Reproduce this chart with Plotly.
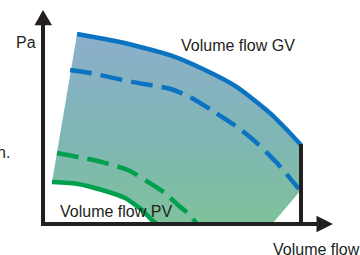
import plotly.graph_objects as go

# Schematic fan curves (flow in % of GV max flow, pressure in % of GV shut-off pressure)
gv_flow = [13.2, 29.8, 49.2, 62.0, 75.2, 88.0, 94.6, 100.0]
gv_pa = [100.0, 95.8, 88.9, 81.6, 72.1, 58.4, 49.5, 41.6]

gv_dash_flow = [10.5, 18.2, 34.9, 49.2, 57.0, 65.9, 75.2, 82.9, 90.7, 99.2]
gv_dash_pa = [81.1, 79.5, 74.7, 71.2, 66.8, 59.4, 51.1, 42.6, 32.1, 18.4]

pv_dash_flow = [5.4, 13.6, 22.9, 32.9, 40.7, 47.3, 52.3, 57.0, 59.6]
pv_dash_pa = [37.4, 35.3, 32.6, 28.4, 22.1, 16.3, 10.0, 4.7, 0.0]

pv_flow = [3.5, 13.6, 22.9, 31.8, 38.4, 42.2, 44.2]
pv_pa = [22.1, 21.1, 17.9, 13.7, 7.4, 2.1, 0.0]

# corner of the operating range at max flow
limit_flow = [100.0, 88.8]
limit_pa = [17.9, 0.0]

labels = ["Volume flow GV", "Volume flow PV", "Pa", "Volume flow", "n."]

BLUE = "#0b73c1"
GREEN = "#00a04f"
BLACK = "#231f20"
FONT = "Liberation Sans, Arial, sans-serif"

x_max = 112.4
y_max = 112.6

fig = go.Figure()

# shaded operating range
fx = gv_flow + limit_flow + pv_flow[::-1] + [gv_flow[0]]
fy = gv_pa + limit_pa + pv_pa[::-1] + [gv_pa[0]]
fig.add_trace(go.Scatter(
    x=fx, y=fy, mode="lines", fill="toself", line=dict(width=0),
    fillgradient=dict(type="vertical", start=0, stop=100,
                      colorscale=[[0, "#7ec29b"], [0.45, "#7fb6b4"], [1, "#8cafcc"]]),
    hoverinfo="skip"))

sp = dict(shape="spline", smoothing=0.6)
fig.add_trace(go.Scatter(x=gv_flow, y=gv_pa, mode="lines",
                         line=dict(color=BLUE, width=4.5, **sp), hoverinfo="skip"))
fig.add_trace(go.Scatter(x=gv_dash_flow, y=gv_dash_pa, mode="lines",
                         line=dict(color=BLUE, width=4.5, dash="22px,9px", **sp), hoverinfo="skip"))
fig.add_trace(go.Scatter(x=pv_dash_flow, y=pv_dash_pa, mode="lines",
                         line=dict(color=GREEN, width=4.5, dash="22px,9px", **sp), hoverinfo="skip"))
fig.add_trace(go.Scatter(x=pv_flow, y=pv_pa, mode="lines",
                         line=dict(color=GREEN, width=4.5, **sp), hoverinfo="skip"))

# axes and max-flow limit line
fig.add_trace(go.Scatter(x=[0, 0, x_max - 5], y=[y_max - 5, 0, 0], mode="lines",
                         line=dict(color=BLACK, width=4), hoverinfo="skip"))
fig.add_trace(go.Scatter(x=[gv_flow[-1], gv_flow[-1]], y=[gv_pa[-1] + 0.5, 0], mode="lines",
                         line=dict(color=BLACK, width=4), hoverinfo="skip"))

shapes = [
    dict(type="path", xref="x", yref="y",
         path=f"M -3.3 {y_max-8} L 3.5 {y_max-8} L 0 {y_max} Z",
         fillcolor=BLACK, line=dict(width=0)),
    dict(type="path", xref="x", yref="y",
         path=f"M {x_max-6.4} 4.3 L {x_max-6.4} -4.3 L {x_max} 0 Z",
         fillcolor=BLACK, line=dict(width=0)),
]

tf = dict(family=FONT, size=16, color=BLACK)
annotations = [
    dict(x=53.1, y=93.7, text=labels[0], xanchor="left", yanchor="middle"),
    dict(x=6.2, y=6.8, text=labels[1], xanchor="left", yanchor="middle"),
    dict(x=-6.6, y=95.3, text=labels[2], xanchor="center", yanchor="middle"),
    dict(x=88.8, y=-13.2, text=labels[3], xanchor="left", yanchor="middle"),
    dict(x=-12.6, y=37.4, text=labels[4], xanchor="right", yanchor="middle"),
]
for a in annotations:
    a.update(showarrow=False, xref="x", yref="y", font=tf, borderpad=0)

fig.update_layout(
    width=360, height=255, margin=dict(l=0, r=0, t=0, b=0),
    paper_bgcolor="white", plot_bgcolor="white", showlegend=False,
    xaxis=dict(range=[-16.67, 122.87], visible=False, fixedrange=True),
    yaxis=dict(range=[-16.3, 117.9], visible=False, fixedrange=True),
    shapes=shapes, annotations=annotations,
)

fig.write_html("out.html", config={"displayModeBar": False},
               post_script="document.body.style.margin='0';")
